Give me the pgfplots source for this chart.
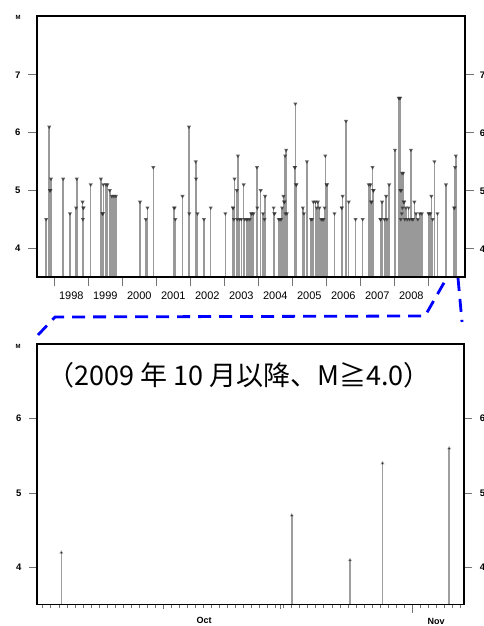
\documentclass[border=0pt]{standalone}
\usepackage{pgfplots}
\pgfplotsset{compat=1.18}
\usepackage{pgfplotstable}
\usepackage{fontspec}
\setmainfont{Liberation Sans}
\newfontfamily\cjk{Noto Sans CJK JP}

\pgfplotstableread{
yr M
1997.76 4.5
1997.85 6.1
1997.87 5.0
1997.88 5.0
1997.90 5.2
1998.26 5.2
1998.46 4.6
1998.64 4.7
1998.66 5.2
1998.83 4.8
1998.84 4.5
1998.85 4.7
1998.86 4.7
1999.07 5.1
1999.37 5.2
1999.41 4.6
1999.42 4.6
1999.43 4.6
1999.44 5.1
1999.52 5.1
1999.56 5.1
1999.63 5.0
1999.69 4.9
1999.75 4.9
1999.81 4.9
2000.52 4.8
2000.69 4.5
2000.74 4.7
2000.91 5.4
2001.52 4.7
2001.54 4.7
2001.56 4.5
2001.77 4.9
2001.96 6.1
2001.97 4.6
2002.16 5.5
2002.17 5.2
2002.21 4.6
2002.40 4.5
2002.60 4.7
2003.03 4.6
2003.25 4.7
2003.26 4.7
2003.28 4.5
2003.30 5.2
2003.37 5.0
2003.38 4.5
2003.40 5.6
2003.45 4.5
2003.50 4.5
2003.57 5.1
2003.60 4.5
2003.65 4.5
2003.69 4.5
2003.75 4.5
2003.79 4.6
2003.81 4.6
2003.86 4.6
2003.96 5.4
2003.97 4.7
2004.07 5.0
2004.14 4.6
2004.18 4.5
2004.20 4.9
2004.45 4.7
2004.47 4.6
2004.48 4.6
2004.60 4.5
2004.64 4.5
2004.67 4.5
2004.70 4.7
2004.74 4.9
2004.76 4.8
2004.77 4.8
2004.79 5.6
2004.80 4.6
2004.82 5.7
2004.84 4.6
2005.07 5.4
2005.08 5.4
2005.09 6.5
2005.11 5.1
2005.12 5.1
2005.31 4.7
2005.34 4.6
2005.43 5.5
2005.55 4.5
2005.58 4.5
2005.62 4.8
2005.68 4.8
2005.72 4.7
2005.75 4.8
2005.80 4.7
2005.85 4.5
2005.88 4.5
2005.92 4.5
2005.95 4.7
2005.97 5.6
2006.01 5.1
2006.02 5.1
2006.24 4.6
2006.45 4.7
2006.46 4.7
2006.48 4.9
2006.58 6.2
2006.66 4.8
2006.86 4.5
2007.07 4.5
2007.25 5.1
2007.30 5.1
2007.32 4.8
2007.33 4.8
2007.36 5.4
2007.38 5.0
2007.39 5.0
2007.59 4.5
2007.60 4.5
2007.64 4.8
2007.71 4.5
2007.76 4.9
2007.78 4.5
2007.85 5.1
2008.02 5.7
2008.13 6.6
2008.16 6.6
2008.17 6.6
2008.18 5.0
2008.19 4.5
2008.20 5.0
2008.22 4.6
2008.23 5.3
2008.24 4.7
2008.26 5.3
2008.28 4.8
2008.29 4.8
2008.31 4.5
2008.34 4.7
2008.38 4.5
2008.42 4.7
2008.45 4.5
2008.49 5.7
2008.52 4.5
2008.55 4.5
2008.59 4.8
2008.64 4.6
2008.69 4.5
2008.75 4.6
2008.81 4.6
2009.01 4.6
2009.02 4.6
2009.06 4.6
2009.09 4.9
2009.13 4.5
2009.18 5.5
2009.27 4.6
2009.52 5.1
2009.76 4.7
2009.77 4.7
2009.79 5.4
2009.81 5.6
}\tabA

\pgfplotstableread{
day M
-12.7 4.2
16.0 4.7
23.25 4.1
27.3 5.4
35.6 5.6
}\tabB

\begin{document}
\begin{tikzpicture}
\useasboundingbox (0pt,0pt) rectangle (484pt,626pt);
\pgfplotsset{
  stemstyle/.style={ycomb, draw=black, draw opacity=0.4, line width=1.5pt,
    mark=triangle*, mark options={rotate=180, scale=0.45, fill=black!80, draw=black!80, opacity=0.75}},
  myaxis/.style={
    scale only axis,
    axis line style={line width=1.5pt},
    tick align=outside,
    xtick pos=bottom, ytick pos=both, yticklabel pos=left,
    tick style={black!55, line width=0.8pt},
    major tick length=8pt,
    /pgf/number format/assume math mode=true,
    yticklabel style={font=\bfseries\fontsize{9.5}{10}\selectfont, xshift=-4pt},
  },
}
% ---------- top axis ----------
\begin{axis}[myaxis,
  at={(37pt,349pt)}, anchor=south west, width=428pt, height=261pt,
  xmin=1997.49, xmax=2010.08, ymin=3.5, ymax=8.02,
  ytick={4,5,6,7},
  scaled x ticks=false,
  xtick={1998,1999,2000,2001,2002,2003,2004,2005,2006,2007,2008,2009},
  xticklabels={},
  major tick length=9pt,
  extra x ticks={1998.5,1999.5,2000.5,2001.5,2002.5,2003.5,2004.5,2005.5,2006.5,2007.5,2008.5},
  extra x tick labels={1998,1999,2000,2001,2002,2003,2004,2005,2006,2007,2008},
  extra x tick style={major tick length=0pt,
    xticklabel style={font=\fontsize{11}{12}\selectfont, yshift=-11pt}},
]
\addplot[stemstyle] table[x=yr, y=M] {\tabA};
\end{axis}
% ---------- bottom axis ----------
\begin{axis}[myaxis,
  at={(37pt,21.3pt)}, anchor=south west, width=427pt, height=260.7pt,
  xmin=-15.73, xmax=37.45, ymin=3.5, ymax=7.0,
  ytick={4,5,6},
  xtick={31}, xticklabels={}, major tick length=8pt,
  minor xtick={-15,-14,...,37}, minor tick length=3pt,
  extra x ticks={0,14.6}, extra x tick labels={},
  extra x tick style={major tick length=4.5pt},
]
\addplot[stemstyle, draw opacity=0.38, line width=1.6pt, mark options={scale=0.35}] table[x=day, y=M] {\tabB};
\end{axis}
% right-hand tick labels (cut by the picture edge, as in the reference)
\begin{scope}[font=\bfseries\fontsize{9.5}{10}\selectfont]
\node at (482.5pt,551pt) {7};
\node at (482.5pt,493pt) {6};
\node at (482.5pt,435pt) {5};
\node at (482.5pt,377pt) {4};
\node at (482.5pt,207.3pt) {6};
\node at (482.5pt,132.3pt) {5};
\node at (482.5pt,58.3pt) {4};
\node at (18pt,609pt) {\fontsize{6}{6}\selectfont M};
\node at (18pt,280pt) {\fontsize{6}{6}\selectfont M};
\node[font=\bfseries\fontsize{9}{10}\selectfont] at (204pt,6pt) {Oct};
\node[font=\bfseries\fontsize{9}{10}\selectfont] at (436pt,5pt) {Nov};
\end{scope}
\node[font=\cjk\fontsize{27}{29}\selectfont] at (239pt,251pt) {（2009 年 10 月以降、M≧4.0）};
% blue dashed zoom lines
\draw[blue, line width=2.8pt, dash pattern=on 13pt off 8pt] (38pt,291pt) -- (55pt,309pt) -- (425pt,310pt) -- (445pt,345pt);
\draw[blue, line width=2.8pt, dash pattern=on 13pt off 8pt] (458pt,348pt) -- (462pt,304pt);
\end{tikzpicture}
\end{document}
